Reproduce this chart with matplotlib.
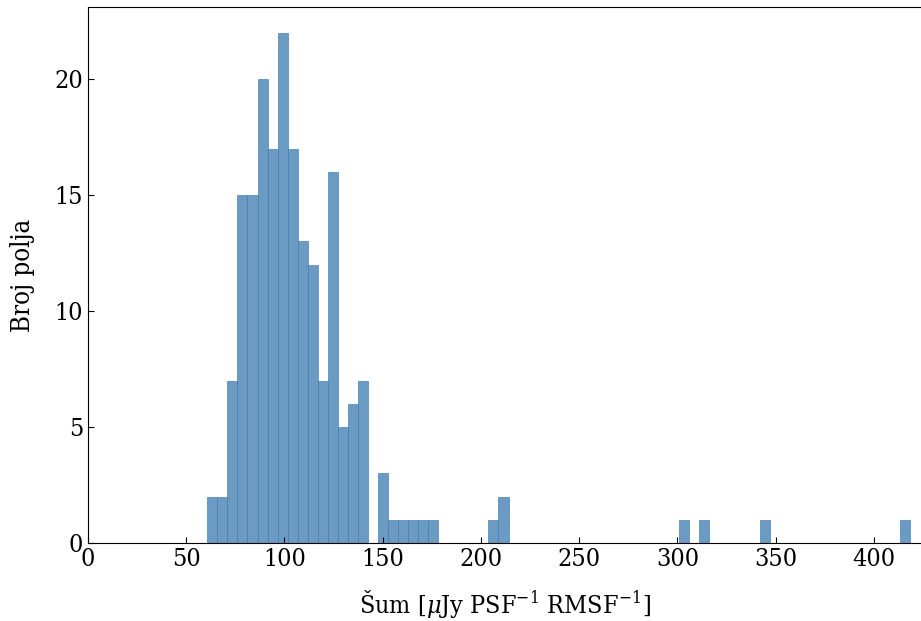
import numpy as np
import matplotlib
matplotlib.use("Agg")
import matplotlib.pyplot as plt

plt.rcParams["font.family"] = "DejaVu Serif"
plt.rcParams["font.stretch"] = "condensed"
plt.rcParams["mathtext.fontset"] = "dejavuserif"

# histogram: 70 bins from ~60.7 to ~418.5
bin_lo = 60.7
bin_hi = 418.5
n_bins = 70
counts = [2, 2, 7, 15, 15, 20, 17, 22, 17, 13,
          12, 7, 16, 5, 6, 7, 0, 3, 1, 1,
          1, 1, 1, 0, 0, 0, 0, 0, 1, 2,
          0, 0, 0, 0, 0, 0, 0, 0, 0, 0,
          0, 0, 0, 0, 0, 0, 0, 1, 0, 1,
          0, 0, 0, 0, 0, 1, 0, 0, 0, 0,
          0, 0, 0, 0, 0, 0, 0, 0, 0, 1]

edges = np.linspace(bin_lo, bin_hi, n_bins + 1)
centers = 0.5 * (edges[:-1] + edges[1:])

fig = plt.figure(figsize=(9.21, 6.21), dpi=100)
ax = fig.add_axes([0.0956, 0.1256, 0.9044, 0.8631])

ax.hist(centers, bins=edges, weights=counts, color="steelblue",
        alpha=0.8, edgecolor="steelblue", linewidth=0.6)

ax.set_xlim(0, 424)
ax.set_xticks([0, 50, 100, 150, 200, 250, 300, 350, 400])
ax.set_yticks([0, 5, 10, 15, 20])
ax.tick_params(direction="in", labelsize=18, length=4)
ax.spines["right"].set_visible(False)

ax.set_xlabel(r"Šum [$\mu$Jy PSF$^{-1}$ RMSF$^{-1}$]", fontsize=18, labelpad=12)
ax.set_ylabel("Broj polja", fontsize=18.5, labelpad=14)

fig.savefig("out.png", dpi=100)
